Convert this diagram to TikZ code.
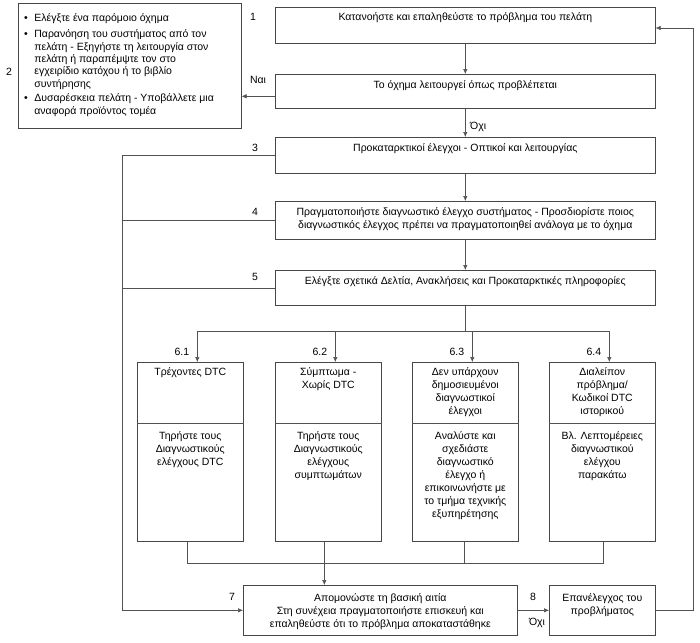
\documentclass[tikz,border=0pt]{standalone}
\usepackage{fontspec}
\setmainfont{Liberation Sans}
\usetikzlibrary{arrows.meta,calc}
\begin{document}
\begin{tikzpicture}[x=1pt,y=-1pt,
  box/.style={draw=black!72, line width=0.6pt, inner sep=0pt, anchor=north west},
  txt/.style={font=\fontsize{10.5}{13}\selectfont, inner sep=0pt, align=center, anchor=north},
  lbl/.style={font=\fontsize{10.5}{13}\selectfont, inner sep=0pt},
  conn/.style={draw=black!68, line width=0.6pt},
  arr/.style={conn, -{Latex[length=5pt,width=4.5pt]}}]
\useasboundingbox (0,0) rectangle (700,642);
% left info box
\node[box, minimum width=223pt, minimum height=125pt] (L) at (18,3) {};
\node[lbl, anchor=north west, align=left, font=\fontsize{10.5}{12.4}\selectfont] (Lt) at (24,12.5) {%
\begin{tabular}{@{}l@{\hspace{6.5pt}}l@{}}
• & Ελέγξτε ένα παρόμοιο όχημα\\[4pt]
• & Παρανόηση του συστήματος από τον\\
  & πελάτη - Εξηγήστε τη λειτουργία στον\\
  & πελάτη ή παραπέμψτε τον στο\\
  & εγχειρίδιο κατόχου ή το βιβλίο\\
  & συντήρησης\\[2pt]
• & Δυσαρέσκεια πελάτη - Υποβάλλετε μια\\
  & αναφορά προϊόντος τομέα
\end{tabular}};
% main boxes
\node[box, minimum width=380pt, minimum height=36pt] (b1) at (275,7) {};
\node[txt] (t1) at ([yshift=-5pt]b1.north) {Κατανοήστε και επαληθεύστε το πρόβλημα του πελάτη};
\node[box, minimum width=380pt, minimum height=34pt] (b2) at (275,74) {};
\node[txt] (t2) at ([yshift=-6pt]b2.north) {Το όχημα λειτουργεί όπως προβλέπεται};
\node[box, minimum width=380pt, minimum height=36pt] (b3) at (275,137) {};
\node[txt] (t3) at ([yshift=-6pt]b3.north) {Προκαταρκτικοί έλεγχοι - Οπτικοί και λειτουργίας};
\node[box, minimum width=380pt, minimum height=38pt] (b4) at (275,201) {};
\node[txt] (t4) at ([yshift=-6pt]b4.north) {Πραγματοποιήστε διαγνωστικό έλεγχο συστήματος - Προσδιορίστε ποιος\\διαγνωστικός έλεγχος πρέπει να πραγματοποιηθεί ανάλογα με το όχημα};
\node[box, minimum width=380pt, minimum height=35pt] (b5) at (275,270) {};
\node[txt] (t5) at ([yshift=-6pt]b5.north) {Ελέγξτε σχετικά Δελτία, Ανακλήσεις και Προκαταρκτικές πληροφορίες};
% sub boxes 6.x
\node[box, minimum width=106pt, minimum height=179pt] (s1) at (137,362) {};
\node[box, minimum width=106pt, minimum height=179pt] (s2) at (275,362) {};
\node[box, minimum width=106pt, minimum height=179pt] (s3) at (412,362) {};
\node[box, minimum width=106pt, minimum height=179pt] (s4) at (549,362) {};
\foreach \s in {s1,s2,s3,s4}{
  \draw[conn] ([yshift=-61pt]\s.north west) -- ([yshift=-61pt]\s.north east);
}
\node[txt] (u1) at ([yshift=-5pt]s1.north) {Τρέχοντες DTC};
\node[txt] (u2) at ([yshift=-5pt]s2.north) {Σύμπτωμα -\\Χωρίς DTC};
\node[txt] (u3) at ([yshift=-5pt]s3.north) {Δεν υπάρχουν\\δημοσιευμένοι\\διαγνωστικοί\\έλεγχοι};
\node[txt] (u4) at ([yshift=-5pt]s4.north) {Διαλείπον\\πρόβλημα/\\Κωδικοί DTC\\ιστορικού};
\node[txt] (d1) at ([yshift=-69pt]s1.north) {Τηρήστε τους\\Διαγνωστικούς\\ελέγχους DTC};
\node[txt] (d2) at ([yshift=-69pt]s2.north) {Τηρήστε τους\\Διαγνωστικούς\\ελέγχους\\συμπτωμάτων};
\node[txt] (d3) at ([yshift=-69pt]s3.north) {Αναλύστε και\\σχεδιάστε\\διαγνωστικό\\έλεγχο ή\\επικοινωνήστε με\\το τμήμα τεχνικής\\εξυπηρέτησης};
\node[txt] (d4) at ([yshift=-69pt]s4.north) {Βλ. Λεπτομέρειες\\διαγνωστικού\\ελέγχου\\παρακάτω};
% bottom boxes
\node[box, minimum width=274pt, minimum height=50pt] (b7) at (243,585) {};
\node[txt] (t7) at ([yshift=-8pt]b7.north) {Απομονώστε τη βασική αιτία\\Στη συνέχεια πραγματοποιήστε επισκευή και\\επαληθεύστε ότι το πρόβλημα αποκαταστάθηκε};
\node[box, minimum width=106pt, minimum height=50pt] (b8) at (549,585) {};
\node[txt] (t8) at ([yshift=-8pt]b8.north) {Επανέλεγχος του\\προβλήματος};
% labels
\node[lbl] (n1) at (253,17) {1};
\node[lbl] (n2) at (9,72) {2};
\node[lbl] (n3) at (255,148) {3};
\node[lbl] (n4) at (255,212) {4};
\node[lbl] (n5) at (255,277) {5};
\node[lbl] (n7) at (232,597) {7};
\node[lbl] (n8) at (533,597) {8};
\node[lbl] (nai) at (258,80) {Ναι};
\node[lbl, anchor=west] (oxi1) at (470,127) {Όχι};
\node[lbl] (oxi2) at (537,623) {Όχι};
% connectors main column
\draw[arr] (b1.south) -- (b2.north);
\draw[arr] (b2.south) -- (b3.north);
\draw[arr] (b3.south) -- (b4.north);
\draw[arr] (b4.south) -- (b5.north);
\draw[arr] ([yshift=-5pt]b2.west) -- ([yshift=-5pt]b2.west -| L.east);
% left return line
\coordinate (lx) at (122,0);
\draw[arr] (b3.west) -- (b3.west -| lx) -- (b7.west -| lx) -- (b7.west);
\draw[conn] (b4.west) -- (b4.west -| lx);
\draw[conn] (b5.west) -- (b5.west -| lx);
% branch to 6.x
\coordinate (br) at (465,331);
\draw[conn] (b5.south) -- (b5.south |- br);
\draw[conn] ([xshift=7pt]s1.north |- br) -- ([xshift=7pt]s4.north |- br);
\foreach \s/\l in {s1/6.1,s2/6.2,s3/6.3,s4/6.4}{
  \draw[arr] ([xshift=7pt]\s.north |- br) -- ([xshift=7pt]\s.north);
  \node[lbl, anchor=east] at ([xshift=-1pt,yshift=10pt]\s.north) {\l};
}
% join from 6.x to 7
\coordinate (jn) at (0,563);
\draw[conn] ([xshift=-3pt]s1.south) -- ([xshift=-3pt]s1.south |- jn) -- ([xshift=1pt]s4.south |- jn) -- ([xshift=1pt]s4.south);
\draw[conn] ([xshift=-1pt]s3.south) -- ([xshift=-1pt]s3.south |- jn);
\draw[arr] ([xshift=-4pt]s2.south) -- ([xshift=-4pt]s2.south |- b7.north);
% 7 -> 8 and return to 1
\draw[arr] (b7.east) -- (b8.west);
\coordinate (rc) at (693,28);
\draw[arr] (b8.east) -| (rc) -- (rc -| b1.east);
\end{tikzpicture}
\end{document}
